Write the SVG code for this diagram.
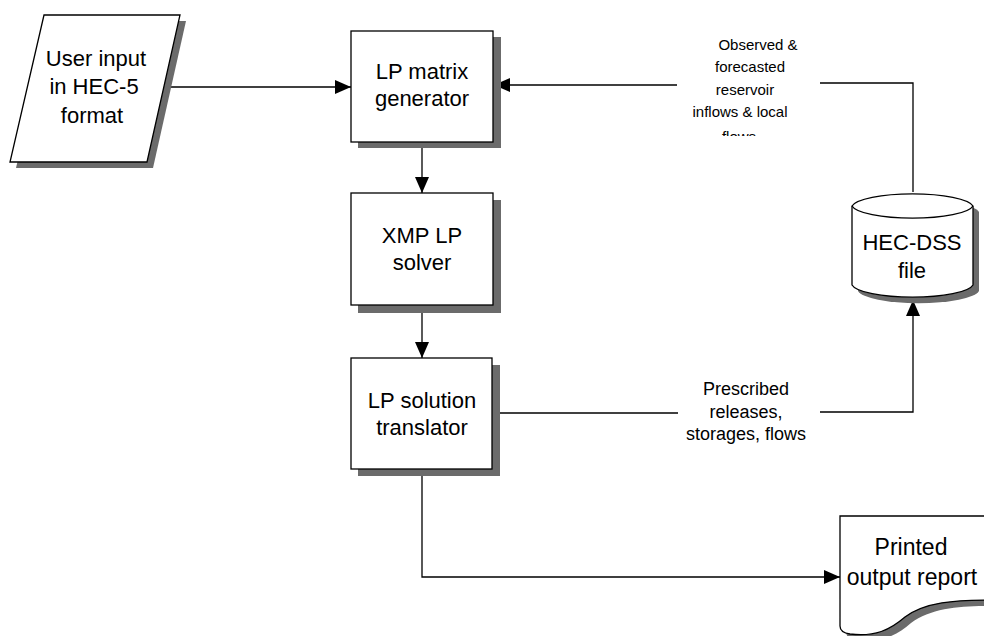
<svg xmlns="http://www.w3.org/2000/svg" width="984" height="636" viewBox="0 0 984 636">
<style>
.shadow{fill:#6b6b6b;stroke:none}
.node{fill:#fff;stroke:#000;stroke-width:1.3}
.lbl{font-family:"Liberation Sans",Arial,sans-serif;font-size:22px;fill:#000;text-anchor:middle}
.small{font-size:18px}
.tiny{font-size:15px}
.doc{font-size:23px}
.conn{fill:none;stroke:#000;stroke-width:1.3}
</style>
<defs>
<marker id="arr" markerUnits="userSpaceOnUse" markerWidth="17" markerHeight="15" refX="16" refY="7" orient="auto">
<path d="M0,0 L16,7 L0,14 Z" fill="#000"/>
</marker>
<clipPath id="clipFlows"><rect x="680" y="120" width="120" height="16"/></clipPath>
</defs>
<rect width="984" height="636" fill="#fff"/>
<g id="connectors">
<path class="conn" d="M164,87 H351" marker-end="url(#arr)"/>
<path class="conn" d="M422,148 V193" marker-end="url(#arr)"/>
<path class="conn" d="M422,313 V358" marker-end="url(#arr)"/>
<path class="conn" d="M913,192 V83 H820"/>
<path class="conn" d="M677,85 H494" marker-end="url(#arr)"/>
<path class="conn" d="M500,413 H678"/>
<path class="conn" d="M820,412 H913 V300" marker-end="url(#arr)"/>
<path class="conn" d="M422,476 V577 H840" marker-end="url(#arr)"/>
</g>
<g id="label-observed">
<text class="lbl tiny" x="758" y="50">Observed &amp;</text>
<text class="lbl tiny" x="750" y="72">forecasted</text>
<text class="lbl tiny" x="745" y="95">reservoir</text>
<text class="lbl tiny" x="740" y="117">inflows &amp; local</text>
<text class="lbl tiny" x="739" y="142" clip-path="url(#clipFlows)">flows</text>
</g>
<g id="label-prescribed">
<text class="lbl small" x="746" y="395">Prescribed</text>
<text class="lbl small" x="746" y="418">releases,</text>
<text class="lbl small" x="746" y="440">storages, flows</text>
</g>
<g id="user-input">
<polygon class="shadow" points="50,21 186,21 153,168 16,168"/>
<polygon class="node" points="44,15 180,15 147,162 10,162"/>
<text class="lbl" x="96" y="66">User input</text>
<text class="lbl" x="94" y="94">in HEC-5</text>
<text class="lbl" x="92" y="123">format</text>
</g>
<g id="lp-matrix">
<rect class="shadow" x="358" y="37" width="143" height="111"/>
<rect class="node" x="351" y="31" width="142" height="111"/>
<text class="lbl" x="422" y="79">LP matrix</text>
<text class="lbl" x="422" y="106">generator</text>
</g>
<g id="xmp-solver">
<rect class="shadow" x="358" y="200" width="143" height="113"/>
<rect class="node" x="351" y="193" width="142" height="112"/>
<text class="lbl" x="422" y="243">XMP LP</text>
<text class="lbl" x="422" y="270">solver</text>
</g>
<g id="lp-translator">
<rect class="shadow" x="358" y="365" width="142" height="111"/>
<rect class="node" x="351" y="358" width="141" height="111"/>
<text class="lbl" x="422" y="408">LP solution</text>
<text class="lbl" x="422" y="435">translator</text>
</g>
<g id="hec-dss">
<path class="shadow" d="M858,212 V291 A61,14 0 0 0 979,291 V212 A61,14 0 0 0 858,212 Z"/>
<path class="node" d="M852,206 V285 A61,14 0 0 0 973,285 V206 A61,14 0 0 0 852,206 Z"/>
<path class="node" fill="none" d="M852,206 A61,14 0 0 0 973,206"/>
<text class="lbl" x="912" y="250">HEC-DSS</text>
<text class="lbl" x="912" y="278">file</text>
</g>
<g id="printed-report">
<path class="shadow" d="M846,522 H990 V606 C961,606 931,608 911,623 C896,636 881,643 856,640 C849,639 846,636 846,632 Z"/>
<path class="node" d="M840,516 H990 V600 C955,600 925,602 905,617 C890,630 875,637 850,634 C843,633 840,630 840,626 Z"/>
<text class="lbl doc" x="911" y="555">Printed</text>
<text class="lbl doc" x="912" y="585">output report</text>
</g>
</svg>
